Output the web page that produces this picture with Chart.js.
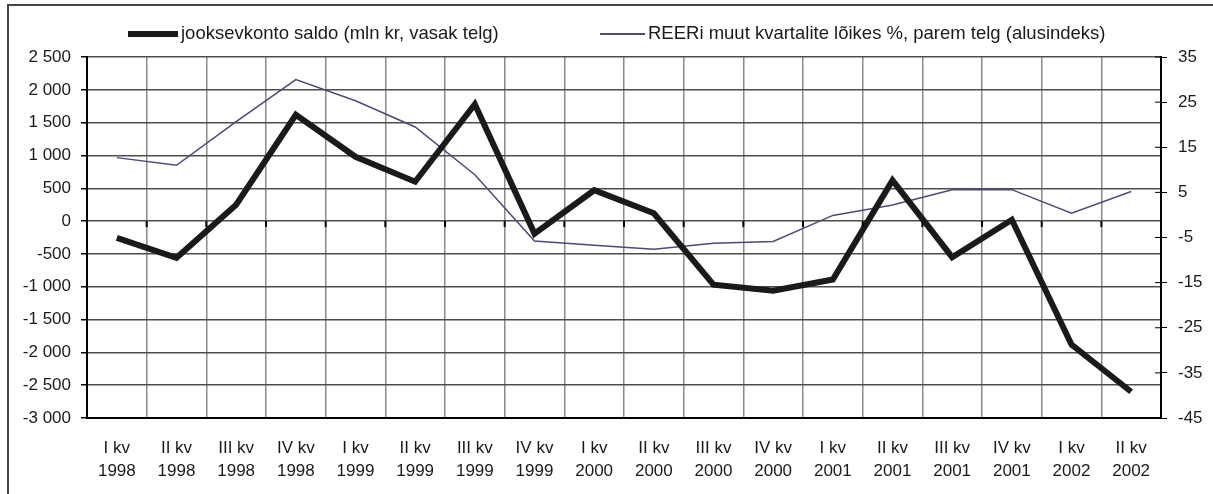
<!DOCTYPE html>
<html lang="et">

<head>
    <meta charset="UTF-8">
    <meta name="viewport" content="width=device-width, initial-scale=1.0">
    <title>Jooksevkonto saldo ja REER</title>
    <style>
        body {
            margin: 0;
            background-color: #fff;
            font-family: "Liberation Sans", Arial, sans-serif;
            overflow: hidden;
        }

        #frame {
            position: absolute;
            left: 7px;
            top: 4px;
            width: 1230px;
            height: 520px;
            border: 2px solid #444;
        }

        #chart-container {
            position: absolute;
            left: 0;
            top: 0;
            width: 1213px;
            height: 494px;
        }

        .legend-item {
            position: absolute;
            top: 22px;
            height: 22px;
            font-size: 18.5px;
            color: #1a1a1a;
            white-space: nowrap;
        }

        .legend-line {
            display: inline-block;
            vertical-align: middle;
            margin-right: 3px;
        }
    </style>
</head>

<body>
    <div id="frame"></div>
    <div id="chart-container">
        <canvas id="cur-chart" width="1213" height="494"></canvas>
    </div>
    <div id="legend"></div>
    <script src="https://cdn.jsdelivr.net/npm/chart.js"></script>
    <script>
    const quarterNames = ['I kv', 'II kv', 'III kv', 'IV kv', 'I kv', 'II kv', 'III kv', 'IV kv', 'I kv',
        'II kv', 'III kv', 'IV kv', 'I kv', 'II kv', 'III kv', 'IV kv', 'I kv', 'II kv'];
    const years = ['1998', '1998', '1998', '1998', '1999', '1999', '1999', '1999', '2000',
        '2000', '2000', '2000', '2001', '2001', '2001', '2001', '2002', '2002'];

    // jooksevkonto saldo, mln kr (left axis)
    const saldo = [-255, -560, 250, 1620, 980, 600, 1780, -190, 470, 120, -970, -1060, -890, 620, -550, 20, -1880, -2600];
    // REER change, % (right axis)
    const reer = [12.7, 11.0, 20.7, 30.0, 25.3, 19.5, 8.9, -5.8, -6.7, -7.6, -6.3, -5.9, -0.1, 2.2, 5.6, 5.6, 0.4, 5.2];

    const seriesNames = ['jooksevkonto saldo (mln kr, vasak telg)', 'REERi muut kvartalite lõikes %, parem telg (alusindeks)'];
    const leftTicks = { min: -3000, max: 2500, step: 500 };
    const rightTicks = { min: -45, max: 35, step: 10 };

    const labels = quarterNames.map((q, i) => [q, years[i]]);

    function spaced(v) {
        const s = Math.abs(v).toString().replace(/\B(?=(\d{3})+(?!\d))/g, ' ');
        return (v < 0 ? '-' : '') + s;
    }

    // html legend, positioned like the original
    const legendSpec = [
        { left: 128, color: '#1a1a1a', width: 50, height: 6 },
        { left: 600, color: '#4a4a7c', width: 45, height: 2 }
    ];
    const legendEl = document.getElementById('legend');
    legendSpec.forEach((spec, i) => {
        const item = document.createElement('div');
        item.className = 'legend-item';
        item.style.left = spec.left + 'px';
        const line = document.createElement('span');
        line.className = 'legend-line';
        line.style.width = spec.width + 'px';
        line.style.height = spec.height + 'px';
        line.style.background = spec.color;
        item.appendChild(line);
        item.appendChild(document.createTextNode(seriesNames[i]));
        legendEl.appendChild(item);
    });

    // extra tick marks: category ticks on the zero line and inner half of right ticks
    const extraTicks = {
        id: 'extraTicks',
        afterDatasetsDraw(chart) {
            const ctx = chart.ctx;
            const x = chart.scales.x;
            const y = chart.scales.y;
            const y1 = chart.scales.y1;
            ctx.save();
            ctx.strokeStyle = '#000';
            ctx.lineWidth = 2;
            const y0 = y.getPixelForValue(0);
            for (let i = 1; i < labels.length; i++) {
                const px = (x.getPixelForValue(i - 1) + x.getPixelForValue(i)) / 2;
                ctx.beginPath();
                ctx.moveTo(px, y0);
                ctx.lineTo(px, y0 + 6);
                ctx.stroke();
            }
            ctx.lineWidth = 1;
            y1.ticks.forEach(t => {
                const py = y1.getPixelForValue(t.value);
                ctx.beginPath();
                ctx.moveTo(y1.left - 6, py);
                ctx.lineTo(y1.left, py);
                ctx.stroke();
            });
            ctx.restore();
        }
    };

    const tickFont = { family: '"Liberation Sans", Arial, sans-serif', size: 17 };

    const ctx = document.getElementById('cur-chart').getContext('2d');
    const curChart = new Chart(ctx, {
        type: 'line',
        data: {
            labels: labels,
            datasets: [
                {
                    label: seriesNames[0],
                    data: saldo,
                    yAxisID: 'y',
                    borderColor: '#1a1a1a',
                    borderWidth: 6,
                    pointRadius: 0,
                    tension: 0,
                    borderJoinStyle: 'miter'
                },
                {
                    label: seriesNames[1],
                    data: reer,
                    yAxisID: 'y1',
                    borderColor: '#4a4a7c',
                    borderWidth: 1.5,
                    pointRadius: 0,
                    tension: 0
                }
            ]
        },
        options: {
            responsive: false,
            animation: false,
            layout: { padding: { top: 57, left: 0, right: 0, bottom: 0 } },
            plugins: {
                legend: { display: false },
                tooltip: { enabled: false }
            },
            scales: {
                x: {
                    offset: true,
                    grid: { offset: true, color: '#8a8a8a', lineWidth: 1.5, drawTicks: false },
                    border: { color: '#000', width: 2 },
                    ticks: { color: '#1a1a1a', font: { ...tickFont, lineHeight: 1.35 }, padding: 19, maxRotation: 0, autoSkip: false },
                    afterFit: scale => { scale.height = 76; }
                },
                y: {
                    position: 'left',
                    min: leftTicks.min,
                    max: leftTicks.max,
                    grid: { color: '#4d4d4d', lineWidth: 1.5, tickColor: '#000', tickLength: 6 },
                    border: { color: '#000', width: 2 },
                    ticks: { stepSize: leftTicks.step, color: '#1a1a1a', font: tickFont, padding: 10, callback: v => spaced(v) },
                    afterFit: scale => { scale.width = 87; }
                },
                y1: {
                    position: 'right',
                    min: rightTicks.min,
                    max: rightTicks.max,
                    grid: { drawOnChartArea: false, tickColor: '#000', tickLength: 6 },
                    border: { color: '#000', width: 2 },
                    ticks: { stepSize: rightTicks.step, color: '#1a1a1a', font: tickFont, padding: 11 },
                    afterFit: scale => { scale.width = 52; }
                }
            }
        },
        plugins: [extraTicks]
    });
    </script>
</body>

</html>
